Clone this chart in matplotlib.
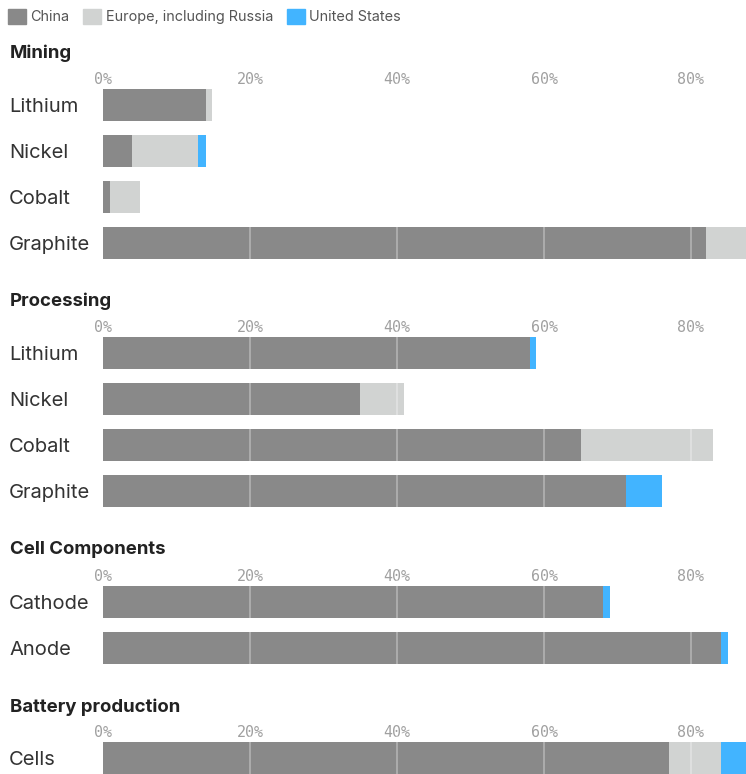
import matplotlib
matplotlib.use('Agg')
import matplotlib.pyplot as plt
from matplotlib.patches import Patch

# colours
CHINA_COL = '#898989'
EUROPE_COL = '#d1d3d2'
US_COL = '#42b4ff'

# data (share of global capacity, %)
mining_cats = ['Lithium', 'Nickel', 'Cobalt', 'Graphite']
mining_china = [14.0, 3.9, 1.0, 82.0]
mining_europe = [0.8, 9.0, 4.0, 8.0]
mining_us = [0.0, 1.1, 0.0, 0.0]

processing_cats = ['Lithium', 'Nickel', 'Cobalt', 'Graphite']
processing_china = [58.1, 35.0, 65.0, 71.1]
processing_europe = [0.0, 5.9, 18.0, 0.0]
processing_us = [0.8, 0.0, 0.0, 4.9]

components_cats = ['Cathode', 'Anode']
components_china = [68.0, 84.1]
components_europe = [0.0, 0.0]
components_us = [1.0, 0.9]

battery_cats = ['Cells']
battery_china = [77.0]
battery_europe = [7.1]
battery_us = [6.0]

tick_vals = [0, 20, 40, 60, 80]
tick_labels = ['0%', '20%', '40%', '60%', '80%']

W, H = 746, 774
FONT = 'Inter'

fig = plt.figure(figsize=(W / 100, H / 100), dpi=100)


def box(x0, y0, x1, y1):
    # pixel box (top-left origin) -> figure fraction
    return [x0 / W, 1 - y1 / H, (x1 - x0) / W, (y1 - y0) / H]


PITCH = 46
X0, X1 = 103, 746
XMAX = (X1 - X0) / 7.35

sections = [
    ('Mining', 53, 105, mining_cats, mining_china, mining_europe, mining_us),
    ('Processing', 301, 353, processing_cats, processing_china, processing_europe, processing_us),
    ('Cell Components', 550, 602, components_cats, components_china, components_europe, components_us),
    ('Battery production', 707, 758, battery_cats, battery_china, battery_europe, battery_us),
]

for title, ty, yc, cats, china, europe, us in sections:
    n = len(cats)
    top = yc - PITCH / 2
    ax = fig.add_axes(box(X0, top, X1, top + n * PITCH))
    pos = list(range(n))
    left2 = [c + e for c, e in zip(china, europe)]
    ax.barh(pos, china, height=0.7, color=CHINA_COL, zorder=2)
    ax.barh(pos, europe, left=china, height=0.7, color=EUROPE_COL, zorder=2)
    ax.barh(pos, us, left=left2, height=0.7, color=US_COL, zorder=2)
    for t in tick_vals[1:]:
        ax.axvline(t, color='white', alpha=0.35, lw=1.2, zorder=3)
    ax.set_xlim(0, XMAX)
    ax.set_ylim(n - 0.5, -0.5)
    ax.xaxis.tick_top()
    ax.set_xticks(tick_vals)
    ax.set_xticklabels(tick_labels, family='DejaVu Sans Mono', fontsize=10.8, color='#a0a0a0')
    ax.tick_params(axis='x', length=0, pad=-3.3)
    ax.set_yticks(pos)
    ax.set_yticklabels(cats, family=FONT, fontsize=14.5, color='#333333', ha='left')
    ax.tick_params(axis='y', length=0, pad=(X0 - 9) * 0.72)
    for s in ax.spines.values():
        s.set_visible(False)
    fig.text(10 / W, 1 - ty / H, title, family=FONT, fontsize=13.4, fontweight='bold',
             color='#222222', va='center', ha='left')

handles = [Patch(color=CHINA_COL), Patch(color=EUROPE_COL), Patch(color=US_COL)]
fig.legend(handles, ['China', 'Europe, including Russia', 'United States'],
           loc='upper left', bbox_to_anchor=(8 / W, 1 - 9 / H), ncol=3, frameon=False,
           borderaxespad=0, borderpad=0, handlelength=1.25, handleheight=1.25,
           handletextpad=0.3, columnspacing=0.95,
           prop={'family': FONT, 'size': 10.4}, labelcolor='#555555')

fig.savefig('out.png', dpi=100)
